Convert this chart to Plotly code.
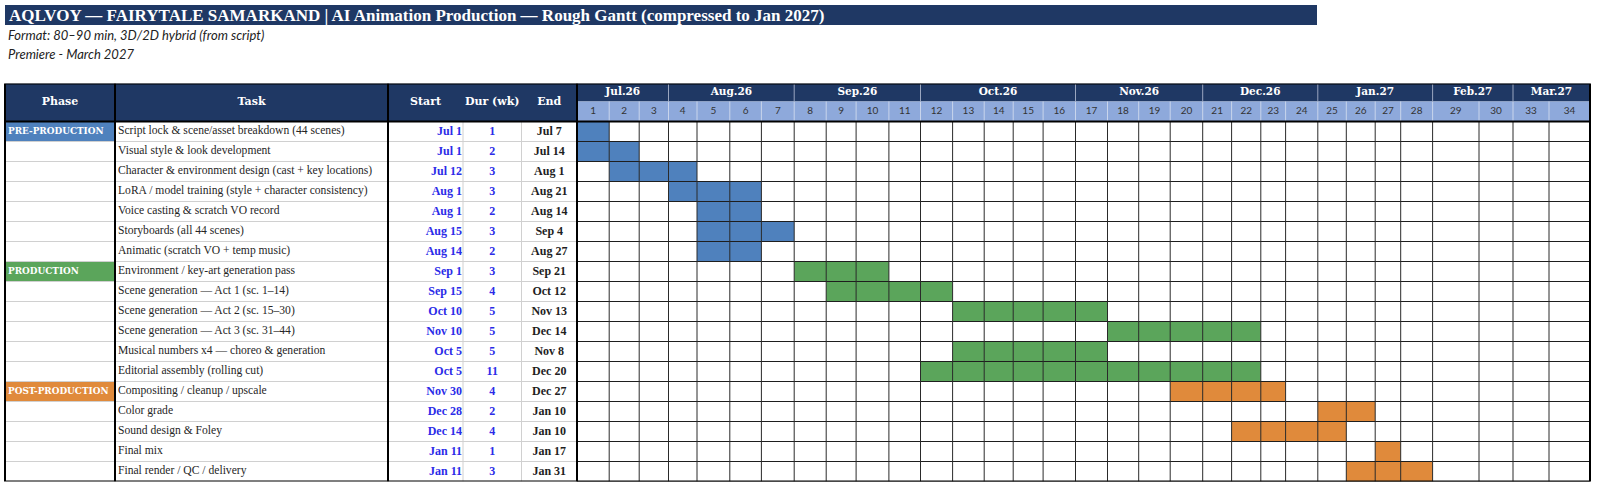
import plotly.graph_objects as go

# ---------------- data ----------------
title = "AQLVOY — FAIRYTALE SAMARKAND | AI Animation Production — Rough Gantt (compressed to Jan 2027)"
subtitle_1 = "Format: 80–90 min, 3D/2D hybrid (from script)"
subtitle_2 = "Premiere - March 2027"

header_labels = ["Phase", "Task", "Start", "Dur (wk)", "End"]

phases = ["PRE-PRODUCTION", "PRODUCTION", "POST-PRODUCTION"]
phase_first_task = [0, 7, 13]

tasks = [
    "Script lock & scene/asset breakdown (44 scenes)",
    "Visual style & look development",
    "Character & environment design (cast + key locations)",
    "LoRA / model training (style + character consistency)",
    "Voice casting & scratch VO record",
    "Storyboards (all 44 scenes)",
    "Animatic (scratch VO + temp music)",
    "Environment / key-art generation pass",
    "Scene generation — Act 1 (sc. 1–14)",
    "Scene generation — Act 2 (sc. 15–30)",
    "Scene generation — Act 3 (sc. 31–44)",
    "Musical numbers x4 — choreo & generation",
    "Editorial assembly (rolling cut)",
    "Compositing / cleanup / upscale",
    "Color grade",
    "Sound design & Foley",
    "Final mix",
    "Final render / QC / delivery",
]
task_phase = [0, 0, 0, 0, 0, 0, 0, 1, 1, 1, 1, 1, 1, 2, 2, 2, 2, 2]
start_labels = ["Jul 1", "Jul 1", "Jul 12", "Aug 1", "Aug 1", "Aug 15", "Aug 14",
                "Sep 1", "Sep 15", "Oct 10", "Nov 10", "Oct 5", "Oct 5",
                "Nov 30", "Dec 28", "Dec 14", "Jan 11", "Jan 11"]
dur_weeks = [1, 2, 3, 3, 2, 3, 2, 3, 4, 5, 5, 5, 11, 4, 2, 4, 1, 3]
end_labels = ["Jul 7", "Jul 14", "Aug 1", "Aug 21", "Aug 14", "Sep 4", "Aug 27",
              "Sep 21", "Oct 12", "Nov 13", "Dec 14", "Nov 8", "Dec 20",
              "Dec 27", "Jan 10", "Jan 10", "Jan 17", "Jan 31"]
start_week = [1, 1, 2, 4, 5, 5, 5, 8, 9, 13, 18, 13, 12, 20, 25, 22, 27, 26]

week_labels = [str(w) for w in range(1, 31)] + ["33", "34"]
months = ["Jul.26", "Aug.26", "Sep.26", "Oct.26", "Nov.26", "Dec.26", "Jan.27", "Feb.27", "Mar.27"]
month_week_count = [3, 4, 4, 5, 4, 4, 4, 2, 2]

# ---------------- layout / styles ----------------
W, H = 1600, 486
TABLE_EDGES = [5, 115, 388, 463, 521.5, 577]           # Phase | Task | Start | Dur | End | gantt
WEEK_EDGES = [577, 609.2, 639.2, 668.5, 697, 729.8, 761.4, 794.2, 826.2, 856.1,
              888.9, 920.5, 952.6, 984.2, 1013.2, 1043.1, 1075.5, 1107.5, 1138.7,
              1170.2, 1202.7, 1231.6, 1260.8, 1285.6, 1317.8, 1346.3, 1375.2,
              1400.7, 1432.6, 1479, 1513, 1549, 1590]
Y_TOP, Y_WEEK, Y_BODY = -2.4, -1.5, -0.5
N = len(tasks)
Y_BOT = N - 0.5

NAVY = "#1F3864"
WEEK_BG = "#8EA9DB"
PHASE_COLORS = ["#4F81BD", "#5BA55B", "#E08A3B"]
START_BLUE = "#2B2BE8"
SERIF = "DejaVu Serif"
BODY_SERIF = "Liberation Serif"
SANS = "Lato"

week_to_slot = {int(w): i for i, w in enumerate(week_labels)}

fig = go.Figure()

shapes = []
def rect(x0, x1, y0, y1, color, layer="below", xref="x", yref="y"):
    shapes.append(dict(type="rect", xref=xref, yref=yref, x0=x0, x1=x1, y0=y0, y1=y1,
                       fillcolor=color, line=dict(width=0), layer=layer))

def line(x0, x1, y0, y1, color, width=1, xref="x", yref="y", layer="above"):
    shapes.append(dict(type="line", xref=xref, yref=yref, x0=x0, x1=x1, y0=y0, y1=y1,
                       line=dict(color=color, width=width), layer=layer))

# header fills
rect(TABLE_EDGES[0], TABLE_EDGES[-1], Y_TOP, Y_BODY, NAVY)
rect(WEEK_EDGES[0], WEEK_EDGES[-1], Y_TOP, Y_WEEK, NAVY)
rect(WEEK_EDGES[0], WEEK_EDGES[-1], Y_WEEK, Y_BODY, WEEK_BG)

# title bar (paper coords)
rect(5 / W, 1317 / W, 1 - 5 / H, 1 - 25 / H, NAVY, xref="paper", yref="paper")

# ---------------- gantt bars ----------------
bar_base, bar_len, bar_col = [], [], []
for i in range(N):
    s = week_to_slot[start_week[i]]
    e = s + dur_weeks[i]
    bar_base.append(WEEK_EDGES[s])
    bar_len.append(WEEK_EDGES[e] - WEEK_EDGES[s])
    bar_col.append(PHASE_COLORS[task_phase[i]])
fig.add_trace(go.Bar(orientation="h", y=list(range(N)), x=bar_len, base=bar_base,
                     width=1.0, marker=dict(color=bar_col, line=dict(width=0)),
                     hoverinfo="skip"))

# phase label fills
fig.add_trace(go.Bar(orientation="h", y=phase_first_task,
                     x=[TABLE_EDGES[1] - TABLE_EDGES[0] - 2] * len(phases),
                     base=[TABLE_EDGES[0] + 1] * len(phases), width=0.94,
                     marker=dict(color=PHASE_COLORS, line=dict(width=0)), hoverinfo="skip"))

# ---------------- grid lines ----------------
for r in range(1, N):
    line(TABLE_EDGES[0], TABLE_EDGES[-1], r - 0.5, r - 0.5, "#D0D0D0", 1)
for x in TABLE_EDGES[3:5]:
    line(x, x, Y_BODY, Y_BOT, "#D0D0D0", 1)
for r in range(0, N + 1):
    line(WEEK_EDGES[0], WEEK_EDGES[-1], r - 0.5, r - 0.5, "#1E1E1E", 1)
for x in WEEK_EDGES[1:-1]:
    line(x, x, Y_BODY, Y_BOT, "#2A2A2A", 1)
    line(x, x, Y_WEEK, Y_BODY, "#C9D5EC", 1)
acc = 0
for c in month_week_count[:-1]:
    acc += c
    line(WEEK_EDGES[acc], WEEK_EDGES[acc], Y_TOP, Y_WEEK, "#9AA6BF", 1)
for x in [TABLE_EDGES[1], TABLE_EDGES[2], TABLE_EDGES[5]]:
    line(x, x, Y_TOP, Y_BOT, "#000000", 2)
line(TABLE_EDGES[0], WEEK_EDGES[-1], Y_BODY, Y_BODY, "#000000", 2)
shapes.append(dict(type="rect", xref="x", yref="y", x0=TABLE_EDGES[0], x1=WEEK_EDGES[-1],
                   y0=Y_TOP, y1=Y_BOT, line=dict(color="#000000", width=2), layer="above"))
line(TABLE_EDGES[0], WEEK_EDGES[-1], Y_TOP - 0.15, Y_TOP - 0.15, "#CFCFCF", 1)

# ---------------- texts ----------------
rows = list(range(N))
fig.add_trace(go.Scatter(x=[TABLE_EDGES[1] + 3] * N, y=rows, text=tasks, mode="text",
                         textposition="middle right",
                         textfont=dict(family=BODY_SERIF, size=11.6, color="#262626"),
                         hoverinfo="skip"))
fig.add_trace(go.Scatter(x=[TABLE_EDGES[3] - 1] * N, y=rows,
                         text=["<b>%s</b>" % s for s in start_labels], mode="text",
                         textposition="middle left",
                         textfont=dict(family=BODY_SERIF, size=12, color=START_BLUE),
                         hoverinfo="skip"))
fig.add_trace(go.Scatter(x=[(TABLE_EDGES[3] + TABLE_EDGES[4]) / 2] * N, y=rows,
                         text=["<b>%d</b>" % d for d in dur_weeks], mode="text",
                         textposition="middle center",
                         textfont=dict(family=BODY_SERIF, size=12, color=START_BLUE),
                         hoverinfo="skip"))
fig.add_trace(go.Scatter(x=[(TABLE_EDGES[4] + TABLE_EDGES[5]) / 2] * N, y=rows,
                         text=["<b>%s</b>" % e for e in end_labels], mode="text",
                         textposition="middle center",
                         textfont=dict(family=BODY_SERIF, size=12, color="#1E1E1E"),
                         hoverinfo="skip"))
fig.add_trace(go.Scatter(x=[TABLE_EDGES[0] + 3] * len(phases), y=phase_first_task,
                         text=["<b>%s</b>" % p for p in phases], mode="text",
                         textposition="middle right",
                         textfont=dict(family=SERIF, size=8.9, color="white"), hoverinfo="skip"))
hdr_x = [(TABLE_EDGES[i] + TABLE_EDGES[i + 1]) / 2 for i in range(5)]
fig.add_trace(go.Scatter(x=hdr_x, y=[(Y_TOP + Y_BODY) / 2] * 5,
                         text=["<b>%s</b>" % h for h in header_labels], mode="text",
                         textposition="middle center",
                         textfont=dict(family=SERIF, size=11, color="white"), hoverinfo="skip"))
mx, s = [], 0
for c in month_week_count:
    mx.append((WEEK_EDGES[s] + WEEK_EDGES[s + c]) / 2)
    s += c
fig.add_trace(go.Scatter(x=mx, y=[(Y_TOP + Y_WEEK) / 2] * len(months),
                         text=["<b>%s</b>" % m for m in months], mode="text",
                         textposition="middle center",
                         textfont=dict(family=SERIF, size=10.5, color="white"), hoverinfo="skip"))
wx = [(WEEK_EDGES[i] + WEEK_EDGES[i + 1]) / 2 for i in range(len(week_labels))]
fig.add_trace(go.Scatter(x=wx, y=[(Y_WEEK + Y_BODY) / 2] * len(week_labels),
                         text=week_labels, mode="text", textposition="middle center",
                         textfont=dict(family=SANS, size=10, color="#333333"), hoverinfo="skip"))

annotations = [
    dict(xref="paper", yref="paper", x=7 / W, y=1 - 15 / H, xanchor="left", yanchor="middle",
         text="<b>%s</b>" % title, showarrow=False,
         font=dict(family=BODY_SERIF, size=17, color="white")),
    dict(xref="paper", yref="paper", x=6 / W, y=1 - 35 / H, xanchor="left", yanchor="middle",
         text="<i>%s</i>" % subtitle_1, showarrow=False,
         font=dict(family=SANS, size=13, color="#222222")),
    dict(xref="paper", yref="paper", x=6 / W, y=1 - 54 / H, xanchor="left", yanchor="middle",
         text="<i>%s</i>" % subtitle_2, showarrow=False,
         font=dict(family=SANS, size=13, color="#222222")),
]

fig.update_layout(
    width=W, height=H, margin=dict(l=0, r=0, t=0, b=0),
    paper_bgcolor="white", plot_bgcolor="white",
    showlegend=False, barmode="overlay", hovermode=False,
    xaxis=dict(range=[0, W], domain=[0, 1], visible=False, fixedrange=True),
    yaxis=dict(range=[Y_BOT, Y_TOP], domain=[(H - 481.5) / H, (H - 83.5) / H],
               visible=False, fixedrange=True),
    shapes=shapes, annotations=annotations,
)

fig.write_html("out.html", config={"displayModeBar": False},
               post_script="document.body.style.margin='0';")
